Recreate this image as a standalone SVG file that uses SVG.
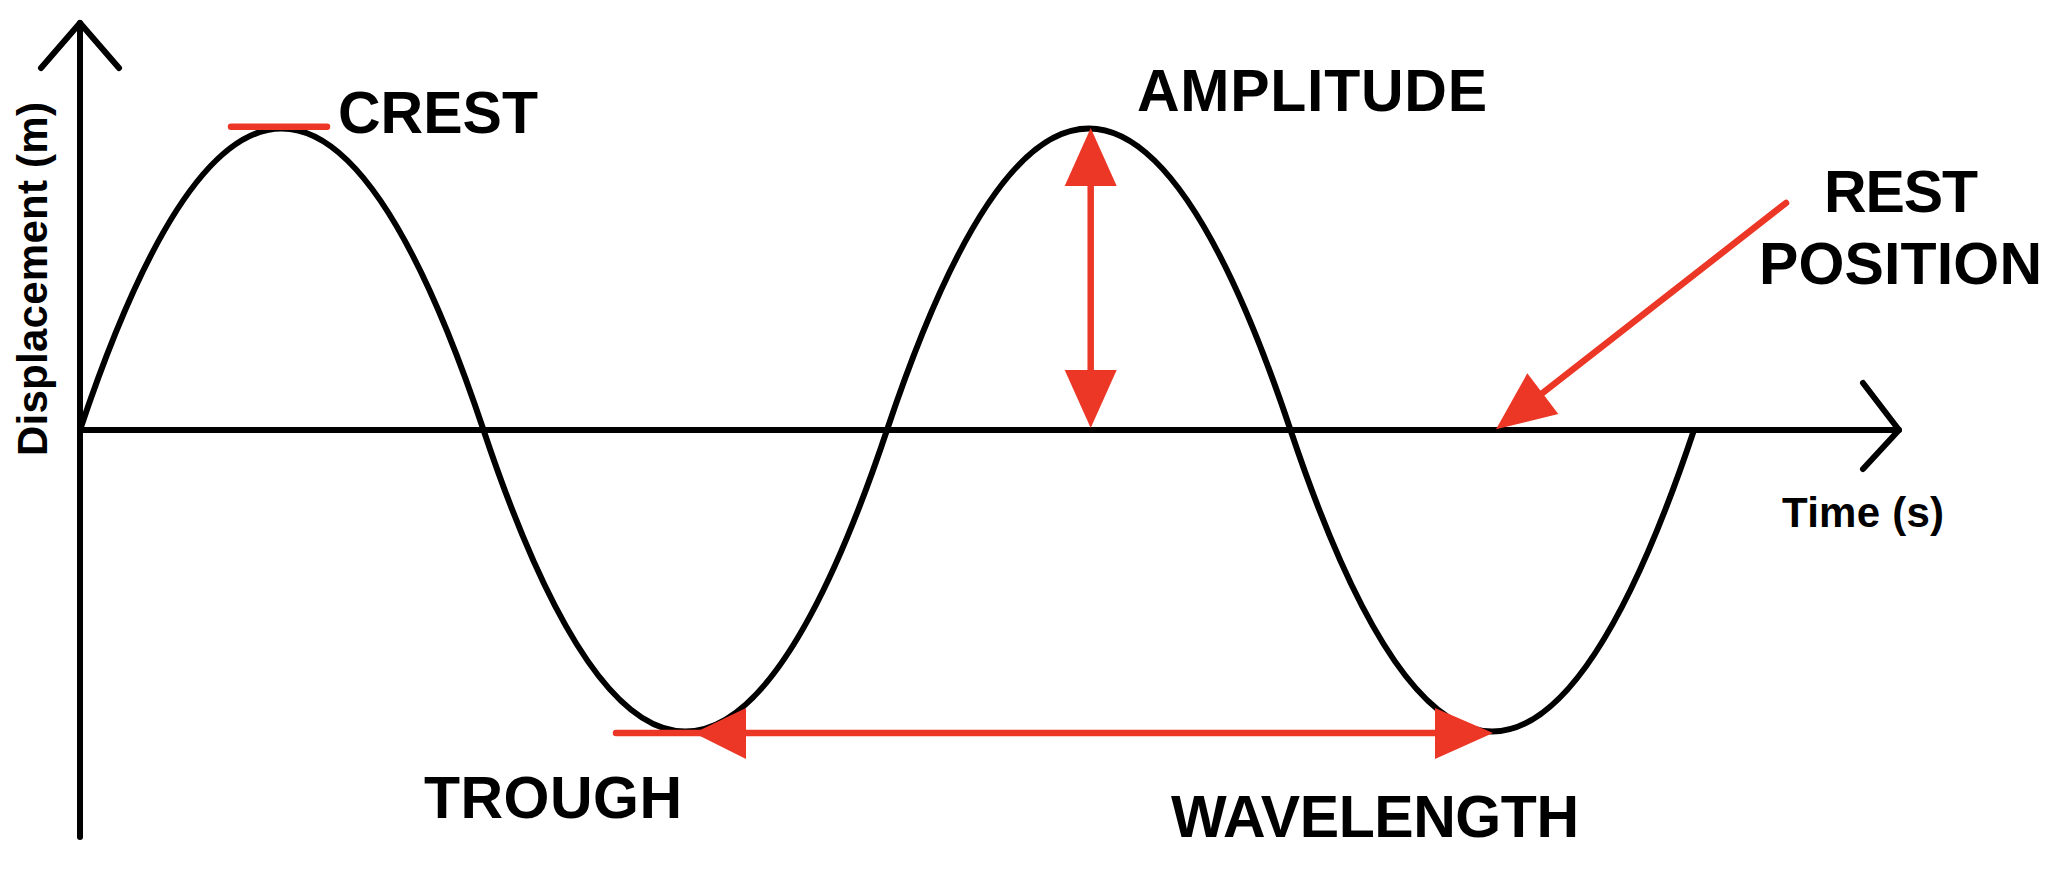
<svg xmlns="http://www.w3.org/2000/svg" width="2052" height="887" viewBox="0 0 2052 887">
  <style>
    .ax { stroke: #000; stroke-width: 6; fill: none; stroke-linecap: round; stroke-linejoin: round; }
    .wave { stroke: #000; stroke-width: 6; fill: none; }
    .red { stroke: #ED3726; stroke-width: 6.5; fill: none; stroke-linecap: round; }
    .head { fill: #ED3726; stroke: none; }
    .lbl { font-family: "Liberation Sans", Arial, Helvetica, sans-serif; font-weight: bold; font-size: 59px; fill: #000; }
    .axl { font-family: "Liberation Sans", Arial, Helvetica, sans-serif; font-weight: bold; font-size: 42px; fill: #000; }
  </style>
  <rect width="2052" height="887" fill="#fff"/>

  <g id="axes">
    <line class="ax" x1="80" y1="23" x2="80" y2="837"/>
    <polyline class="ax" points="41,68 80,23 119,68"/>
    <line class="ax" x1="80" y1="430" x2="1899" y2="430"/>
    <polyline class="ax" points="1863,383 1899,430 1863,469"/>
  </g>

  <g id="wave">
    <path class="wave" d="M 80 430 Q 281.75 -173 483.5 430 T 887 430 T 1290.5 430 T 1694 430"/>
  </g>

  <g id="connectors">
    <line id="crest-mark" class="red" x1="231" y1="126.7" x2="327" y2="126.7"/>
    <g id="amplitude-arrow">
      <line class="red" x1="1090.7" y1="180" x2="1090.7" y2="376" style="stroke-linecap:butt"/>
      <polygon class="head" points="1090.7,128 1116.7,186 1064.7,186"/>
      <polygon class="head" points="1090.7,428 1116.7,370 1064.7,370"/>
    </g>
    <g id="wavelength-arrow">
      <line class="red" x1="616" y1="733" x2="1440" y2="733"/>
      <polygon class="head" points="694,733 746,708 746,759"/>
      <polygon class="head" points="1493,733 1435,708 1435,759"/>
    </g>
    <g id="rest-arrow">
      <line class="red" x1="1786" y1="203" x2="1540" y2="395"/>
      <polygon class="head" points="1496,429.3 1527.3,373.3 1558.3,414"/>
    </g>
  </g>

  <g id="label-crest"><text class="lbl" x="338" y="133" textLength="200">CREST</text></g>
  <g id="label-amplitude"><text class="lbl" x="1137" y="111" textLength="350">AMPLITUDE</text></g>
  <g id="label-rest-position">
    <text class="lbl" x="1824" y="212" textLength="154">REST</text>
    <text class="lbl" x="1759" y="284" textLength="283">POSITION</text>
  </g>
  <g id="label-trough"><text class="lbl" x="424" y="818" textLength="258">TROUGH</text></g>
  <g id="label-wavelength"><text class="lbl" x="1171" y="837" textLength="408">WAVELENGTH</text></g>
  <g id="label-time"><text class="axl" x="1782" y="527" textLength="162">Time (s)</text></g>
  <g id="label-displacement"><text class="axl" transform="translate(47,456) rotate(-90)" x="0" y="0" font-size="43" textLength="354">Displacement (m)</text></g>
</svg>
